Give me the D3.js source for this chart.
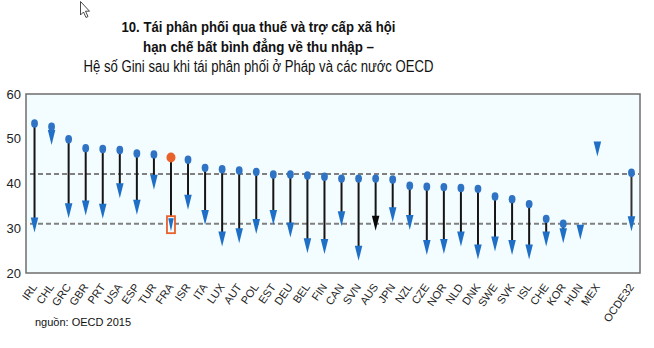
<!DOCTYPE html>
<html><head><meta charset="utf-8">
<script src="https://cdn.jsdelivr.net/npm/d3@7"></script>
<style>body{margin:0;background:#fff}svg{display:block}</style>
</head><body>
<svg id="c" width="654" height="348"></svg>
<script>
const countries = ["IRL","CHL","GRC","GBR","PRT","USA","ESP","TUR","FRA","ISR","ITA","LUX","AUT","POL","EST","DEU","BEL","FIN","CAN","SVN","AUS","JPN","NZL","CZE","NOR","NLD","DNK","SWE","SVK","ISL","CHE","KOR","HUN","MEX","OCDE32"];
// Gini before redistribution (market income) – circles
const beforeVals = [53.4,52.7,49.9,47.9,47.7,47.5,46.7,46.5,45.8,45.3,43.5,43.2,42.9,42.6,42.0,42.0,41.8,41.5,41.1,41.1,41.1,40.9,39.5,39.3,39.2,39.0,38.8,37.1,36.5,35.4,32.1,31.0,null,null,42.4];
// Gini after redistribution (disposable income) – triangles
const afterVals = [30.7,50.3,33.9,34.5,33.8,38.4,34.7,40.3,30.8,35.8,32.4,27.6,28.3,30.4,32.4,29.6,26.1,25.9,32.1,24.4,31.1,33.0,31.3,25.7,25.9,27.6,24.7,26.5,25.7,24.7,27.6,28.3,29.1,47.7,31.0];
const refLines = [42.1, 31.0];
const yTicks = [20,30,40,50,60];
const titleLines = ["10. Tái phân phối qua thuế và trợ cấp xã hội","hạn chế bất bình đẳng về thu nhập –","Hệ số Gini sau khi tái phân phối ở Pháp và các nước OECD"];
const sourceText = "nguồn: OECD 2015";

const svg = d3.select("#c");
const F = "Liberation Sans, Arial, sans-serif";
const L = 26, R = 640, T = 94, B = 273;

const domain = countries.slice(0, 34).concat(["_gap"], countries.slice(34));
const x = d3.scaleBand().domain(domain).range([L, R]).padding(0);
const y = d3.scaleLinear().domain([20, 60]).range([B, T]);
const cx = c => x(c) + x.bandwidth() / 2;

// cursor artifact
svg.append("path").attr("d","M80.5,1.5 L80.5,15 L83.5,12 L86,17.5 L88,16.5 L85.5,11.2 L89.5,11.2 Z")
  .attr("fill","#fff").attr("stroke","#333").attr("stroke-width",0.9);

// title
const tl = [{t:titleLines[0],y:32,w:'bold',s:15,len:274},{t:titleLines[1],y:52,w:'bold',s:15,len:231},{t:titleLines[2],y:72,w:'normal',s:16,len:350}];
svg.selectAll("text.title").data(tl).join("text").attr("class","title")
  .attr("x",258.5).attr("y",d=>d.y).attr("text-anchor","middle")
  .attr("font-family",F).attr("font-weight",d=>d.w).attr("font-size",d=>d.s)
  .attr("fill","#111").attr("textLength",d=>d.len).attr("lengthAdjust","spacingAndGlyphs")
  .text(d=>d.t);

// plot background
svg.append("rect").attr("x",L).attr("y",T).attr("width",R-L).attr("height",B-T)
  .attr("fill","#f3fcff").attr("stroke","#6e6e6e").attr("stroke-width",1.5);

// y axis labels
const yAxis = d3.axisLeft(y).tickValues(yTicks).tickSize(0).tickPadding(5);
const ga = svg.append("g").attr("transform",`translate(${L},0)`).call(yAxis);
ga.select(".domain").remove();
ga.selectAll("text").attr("font-family",F).attr("font-size",13).attr("fill","#222");

// reference dashed lines
svg.selectAll("line.ref").data(refLines).join("line").attr("class","ref")
  .attr("x1",L+4).attr("x2",R-1).attr("y1",d=>y(d)).attr("y2",d=>y(d))
  .attr("stroke","#808080").attr("stroke-width",2).attr("stroke-dasharray","5,3");

const data = countries.map((c,i)=>({c, b:beforeVals[i], a:afterVals[i]}));

// stems
svg.selectAll("line.stem").data(data.filter(d=>d.b!=null)).join("line").attr("class","stem")
  .attr("x1",d=>cx(d.c)).attr("x2",d=>cx(d.c))
  .attr("y1",d=>y(d.b)).attr("y2",d=>y(d.a)-4)
  .attr("stroke",d=>d.c==="OCDE32"?"#333":"#151515").attr("stroke-width",2);

// FRA box
const fra = data.find(d=>d.c==="FRA");
svg.append("rect").attr("x",cx("FRA")-4).attr("y",y(fra.a)-8.5).attr("width",8).attr("height",17)
  .attr("fill","#f3fcff").attr("stroke","#e8622a").attr("stroke-width",1.8);

// triangles (centered on value, tip down)
const tri = (w,h) => `M${-w/2},${-h/2} L${w/2},${-h/2} L0,${h/2} Z`;
svg.selectAll("path.tri").data(data).join("path").attr("class","tri")
  .attr("transform",d=>`translate(${cx(d.c)},${y(d.a)})`)
  .attr("d",d=>d.c==="FRA"?tri(5.5,13):tri(7.5,15))
  .attr("fill",d=>d.c==="AUS"?"#0a0a0a":"#1f6fc6");

// circles
svg.selectAll("ellipse.pt").data(data.filter(d=>d.b!=null)).join("ellipse").attr("class","pt")
  .attr("cx",d=>cx(d.c)).attr("cy",d=>y(d.b))
  .attr("rx",d=>d.c==="FRA"?4.5:3.4).attr("ry",d=>d.c==="FRA"?5:4.2)
  .attr("fill",d=>d.c==="FRA"?"#e8622a":"#2f73c4");

// x labels
svg.selectAll("text.xl").data(countries).join("text").attr("class","xl")
  .attr("transform",c=>`translate(${cx(c)+3},${287}) rotate(-55)`)
  .attr("text-anchor","end").attr("font-family",F).attr("font-size",11).attr("fill","#222")
  .text(c=>c);

// source
svg.append("text").attr("x",35).attr("y",326).attr("font-family",F).attr("font-size",11)
  .attr("fill","#111").text(sourceText);
</script>
</body></html>
